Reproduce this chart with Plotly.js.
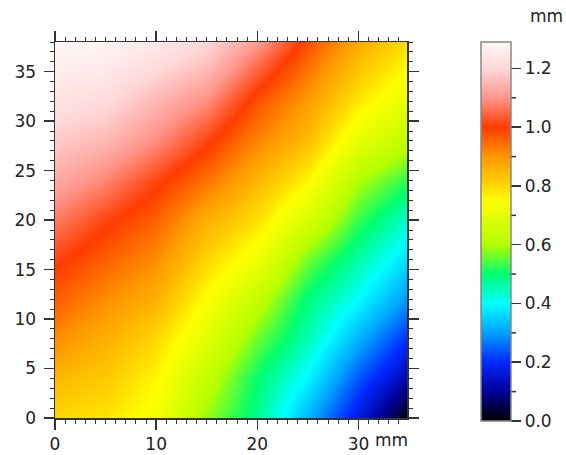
<!DOCTYPE html>
<html>
<head>
<meta charset="utf-8">
<script src="https://cdn.plot.ly/plotly-3.0.1.min.js"></script>
<style>html,body{margin:0;padding:0;background:#fff;}#chart{width:566px;height:455px;}</style>
</head>
<body>
<div id="chart"></div>
<script>
// X positions (mm) of sampled columns
const xVals = [0, 5, 10, 15, 20, 25, 30, 35];
// Y positions (mm) of sampled rows
const yVals = [0, 4, 8, 12, 16, 20, 24, 28, 32, 36, 38];
// Height values (mm), one array per row
const rowY0  = [0.80, 0.78, 0.735, 0.58, 0.48, 0.32, 0.17, 0.00];
const rowY4  = [0.85, 0.82, 0.76, 0.63, 0.50, 0.39, 0.24, 0.12];
const rowY8  = [0.91, 0.86, 0.80, 0.69, 0.56, 0.45, 0.32, 0.20];
const rowY12 = [0.965, 0.91, 0.86, 0.745, 0.63, 0.49, 0.40, 0.29];
const rowY16 = [1.01, 0.96, 0.91, 0.80, 0.72, 0.56, 0.46, 0.36];
const rowY20 = [1.07, 1.01, 0.96, 0.86, 0.79, 0.67, 0.53, 0.43];
const rowY24 = [1.13, 1.08, 1.01, 0.94, 0.85, 0.76, 0.60, 0.52];
const rowY28 = [1.18, 1.15, 1.09, 1.01, 0.92, 0.84, 0.70, 0.62];
const rowY32 = [1.23, 1.21, 1.15, 1.09, 0.98, 0.89, 0.78, 0.70];
const rowY36 = [1.27, 1.26, 1.22, 1.17, 1.06, 0.95, 0.84, 0.76];
const rowY38 = [1.29, 1.28, 1.25, 1.20, 1.11, 0.98, 0.87, 0.79];
// Tick labels
const xTickVals = [0, 10, 20, 30];
const xTickText = ['0', '10', '20', '30'];
const yTickVals = [0, 5, 10, 15, 20, 25, 30, 35];
const cbTickVals = [0, 0.2, 0.4, 0.6, 0.8, 1.0, 1.2];
const cbTickText = ['0.0', '0.2', '0.4', '0.6', '0.8', '1.0', '1.2'];
const cbMinorVals = [0.1, 0.3, 0.5, 0.7, 0.9, 1.1];
const unitLabel = 'mm';

const zRows = [rowY0, rowY4, rowY8, rowY12, rowY16, rowY20, rowY24, rowY28, rowY32, rowY36, rowY38];

const zMin = 0, zMax = 1.29;
const stops = [
  [0.0, 'rgb(0,0,0)'],
  [0.1, 'rgb(0,0,150)'],
  [0.2, 'rgb(0,40,255)'],
  [0.3, 'rgb(0,160,255)'],
  [0.4, 'rgb(0,255,255)'],
  [0.5, 'rgb(0,255,110)'],
  [0.6, 'rgb(180,255,0)'],
  [0.75, 'rgb(255,255,0)'],
  [0.8, 'rgb(255,215,0)'],
  [0.9, 'rgb(255,150,0)'],
  [1.0, 'rgb(255,60,0)'],
  [1.1, 'rgb(255,150,140)'],
  [1.2, 'rgb(255,215,215)'],
  [1.29, 'rgb(255,248,248)']
];
const colorscale = stops.map(s => [(s[0] - zMin) / (zMax - zMin), s[1]]);

const W = 566, H = 455;
const M = {l: 55, r: 159, t: 42, b: 37};
const plotW = W - M.l - M.r, plotH = H - M.t - M.b;
const cbLeftPx = 481, cbThick = 30, cbLenPx = 379, cbTopPx = 42;
const fontFam = 'DejaVu Sans, Verdana, sans-serif';
const fontSize = 17;
const txtColor = '#222';
const axColor = '#333';

// minor ticks on the colorbar (decoration), positioned from the colorbar scale
const shapes = cbMinorVals.map(v => {
  const py = cbTopPx + cbLenPx * (1 - (v - zMin) / (zMax - zMin));
  const yp = 1 - (py - M.t) / plotH;
  const x0 = (cbLeftPx + cbThick - M.l) / plotW;
  const x1 = (cbLeftPx + cbThick + 5 - M.l) / plotW;
  return {type: 'line', xref: 'paper', yref: 'paper', x0: x0, x1: x1, y0: yp, y1: yp,
          line: {color: axColor, width: 1.5}};
});

const trace = {
  type: 'heatmap',
  x: xVals, y: yVals, z: zRows,
  zmin: zMin, zmax: zMax,
  zsmooth: 'best',
  colorscale: colorscale,
  colorbar: {
    x: (cbLeftPx - M.l) / plotW, xanchor: 'left', xpad: 0,
    y: 1, yanchor: 'top', ypad: 0,
    len: cbLenPx, lenmode: 'pixels',
    thickness: cbThick, thicknessmode: 'pixels',
    outlinecolor: '#888', outlinewidth: 1.5,
    tickvals: cbTickVals, ticktext: cbTickText,
    ticks: 'outside', ticklen: 10, tickwidth: 1.5, tickcolor: axColor,
    tickfont: {family: fontFam, size: fontSize, color: txtColor}
  },
  hoverinfo: 'x+y+z'
};

const layout = {
  width: W, height: H,
  margin: M,
  paper_bgcolor: '#fff', plot_bgcolor: '#fff',
  font: {family: fontFam, size: fontSize, color: txtColor},
  xaxis: {
    range: [0, 34.8], showgrid: false, zeroline: false,
    showline: true, linecolor: axColor, linewidth: 1.5, mirror: 'ticks',
    ticks: 'outside', ticklen: 10, tickwidth: 1.5, tickcolor: axColor,
    tickvals: xTickVals, ticktext: xTickText,
    minor: {dtick: 1, tick0: 0, ticks: 'outside', ticklen: 4, tickwidth: 1, tickcolor: axColor},
    tickfont: {family: fontFam, size: fontSize, color: txtColor}
  },
  yaxis: {
    range: [0, 38], showgrid: false, zeroline: false,
    showline: true, linecolor: axColor, linewidth: 1.5, mirror: 'ticks',
    ticks: 'outside', ticklen: 10, tickwidth: 1.5, tickcolor: axColor,
    tickvals: yTickVals, ticklabelstandoff: 4,
    minor: {dtick: 1, tick0: 0, ticks: 'outside', ticklen: 4, tickwidth: 1, tickcolor: axColor},
    tickfont: {family: fontFam, size: fontSize, color: txtColor}
  },
  shapes: shapes,
  annotations: [
    {text: unitLabel, xref: 'x', yref: 'paper', x: 31.4, xanchor: 'left',
     y: -(440 - (H - M.b)) / plotH, yanchor: 'middle', showarrow: false,
     font: {family: fontFam, size: fontSize, color: txtColor}},
    {text: unitLabel, xref: 'paper', yref: 'paper', x: (546 - M.l) / plotW, xanchor: 'center',
     y: 1 + (M.t - 16) / plotH, yanchor: 'middle', showarrow: false,
     font: {family: fontFam, size: fontSize, color: txtColor}}
  ]
};

Plotly.newPlot('chart', [trace], layout, {staticPlot: true, displayModeBar: false});
</script>
</body>
</html>
